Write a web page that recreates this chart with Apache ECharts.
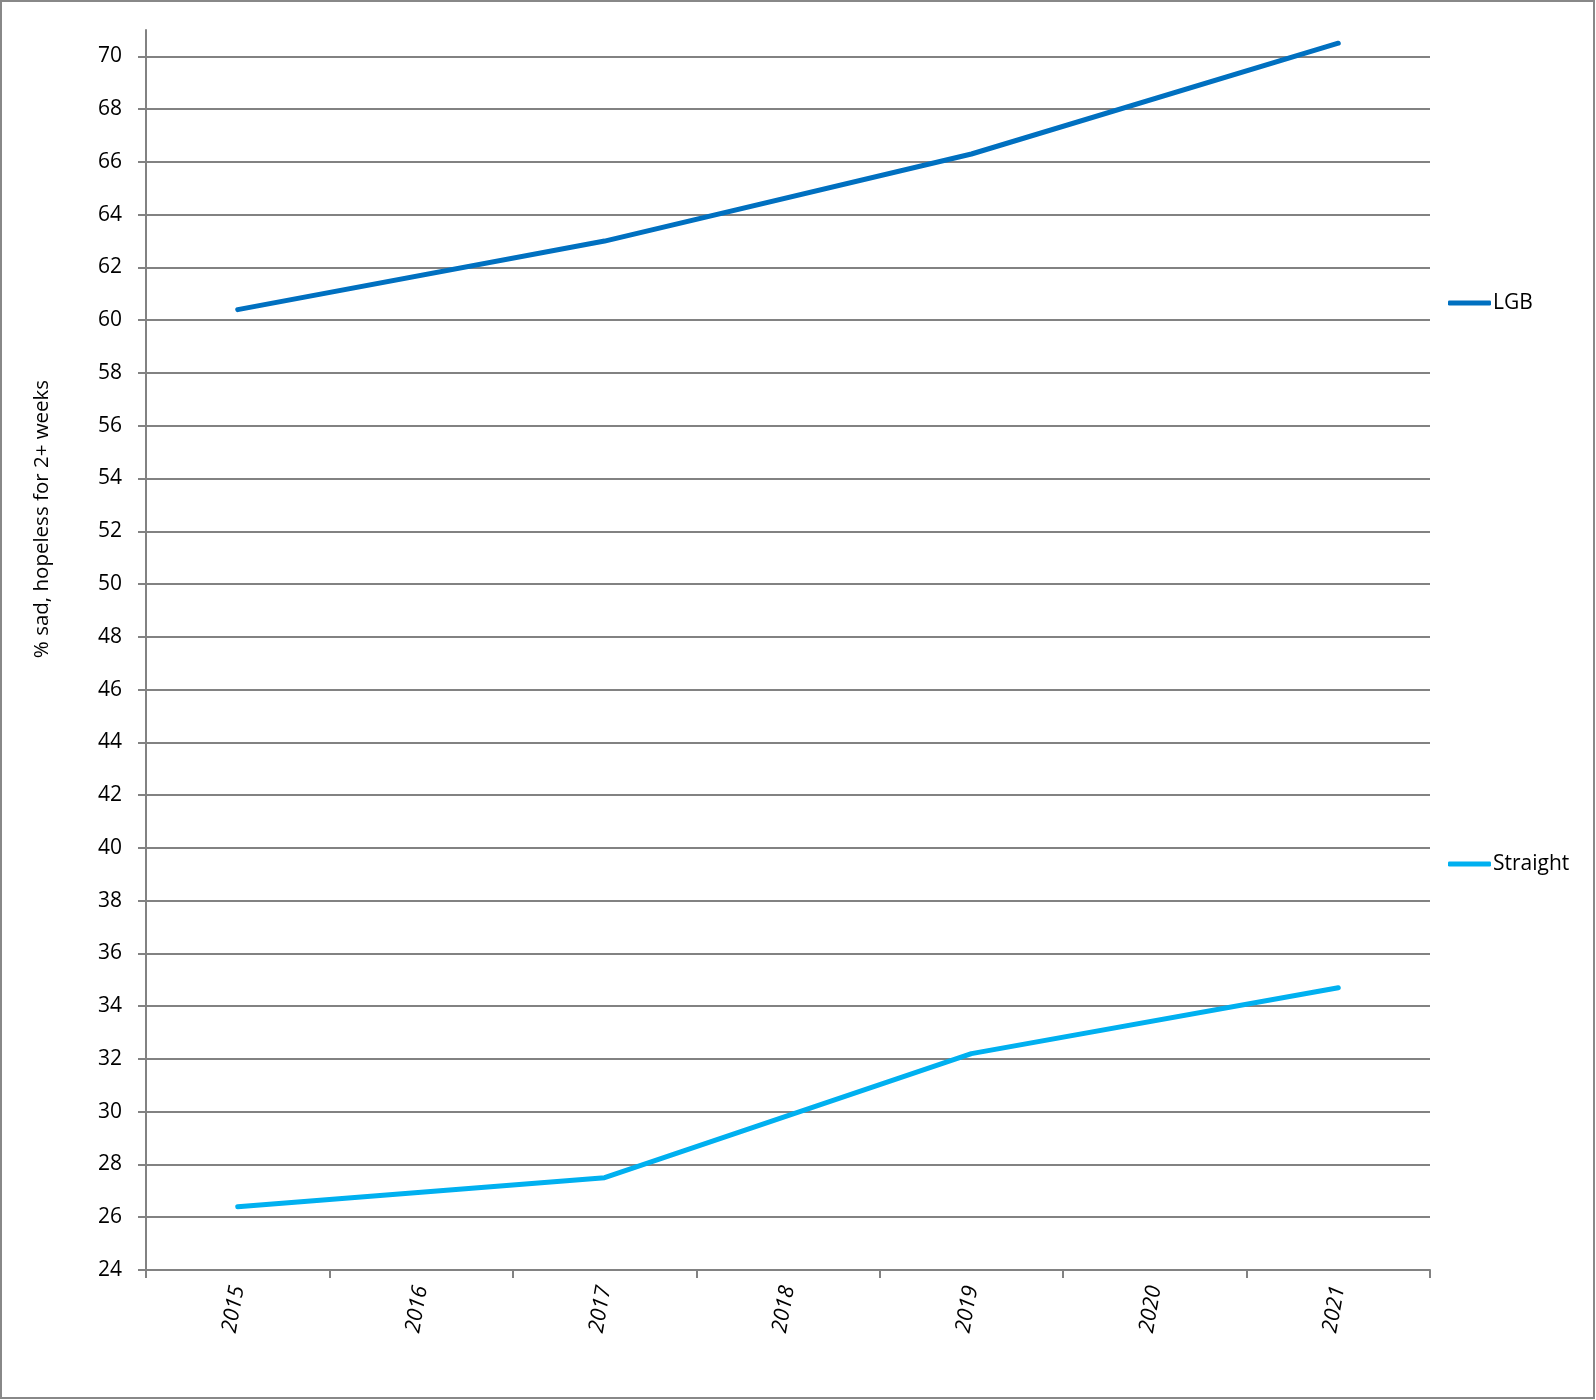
<!DOCTYPE html>
<html>
<head>
<meta charset="utf-8">
<script src="https://cdn.jsdelivr.net/npm/echarts@6/dist/echarts.min.js"></script>
<style>
  html, body { margin: 0; padding: 0; background: #fff; }
  #frame { position: absolute; left: 0; top: 0; width: 1595px; height: 1399px; box-sizing: border-box; border: 2px solid #888; }
  #chart { position: absolute; left: 0; top: 0; width: 1596px; height: 1400px; }
</style>
</head>
<body>
<div id="frame"></div>
<div id="chart"></div>
<script>
const years = ['2015', '2016', '2017', '2018', '2019', '2020', '2021'];
const lgbValues = [60.4, null, 63.0, null, 66.3, null, 70.5];
const straightValues = [26.4, null, 27.5, null, 32.2, null, 34.7];
const yTickValues = [24, 26, 28, 30, 32, 34, 36, 38, 40, 42, 44, 46, 48, 50, 52, 54, 56, 58, 60, 62, 64, 66, 68, 70];
const yTitle = '% sad, hopeless for 2+ weeks';

const chart = echarts.init(document.getElementById('chart'), null, { renderer: 'canvas' });
const axisGray = '#828282';
const font = '"Open Sans", "Liberation Sans", sans-serif';

chart.setOption({
  animation: false,
  backgroundColor: 'transparent',
  textStyle: { fontFamily: font, color: '#000' },
  grid: { left: 146, top: 30, width: 1284, height: 1240, containLabel: false },
  legend: [
    {
      data: ['LGB'], left: 1448, top: 291, orient: 'vertical', padding: 0,
      icon: 'roundRect', itemWidth: 43, itemHeight: 5, itemGap: 0,
      textStyle: { fontFamily: font, fontSize: 21, color: '#000', lineHeight: 24, padding: [0, 0, 0, -3] },
      selectedMode: false
    },
    {
      data: ['Straight'], left: 1448, top: 852, orient: 'vertical', padding: 0,
      icon: 'roundRect', itemWidth: 43, itemHeight: 5, itemGap: 0,
      textStyle: { fontFamily: font, fontSize: 21, color: '#000', lineHeight: 24, padding: [0, 0, 0, -3] },
      selectedMode: false
    }
  ],
  xAxis: {
    type: 'category',
    data: years,
    boundaryGap: true,
    axisLine: { show: true, lineStyle: { color: axisGray, width: 2 } },
    axisTick: { show: true, alignWithLabel: false, length: 8, lineStyle: { color: axisGray, width: 2 } },
    axisLabel: { rotate: 80, margin: 16, fontFamily: font, fontSize: 21.5, fontStyle: 'italic', color: '#000' },
    splitLine: { show: false }
  },
  yAxis: {
    type: 'value',
    min: 24, max: 71, interval: 2,
    axisLine: { show: true, lineStyle: { color: axisGray, width: 2 } },
    axisTick: { show: true, length: 8, customValues: yTickValues, lineStyle: { color: axisGray, width: 2 } },
    axisLabel: { customValues: yTickValues, margin: 24, fontFamily: font, fontSize: 21, color: '#000' },
    splitLine: { show: true, lineStyle: { color: axisGray, width: 2 } }
  },
  graphic: [{
    type: 'text',
    x: 42, y: 519,
    rotation: Math.PI / 2,
    style: { text: yTitle, fontFamily: font, fontSize: 20.5, fill: '#000', align: 'center', verticalAlign: 'middle' }
  }],
  series: [
    {
      name: 'LGB', type: 'line', data: lgbValues, connectNulls: true,
      showSymbol: false, symbol: 'none', silent: true,
      itemStyle: { color: '#0070C0' },
      lineStyle: { color: '#0070C0', width: 5, cap: 'round', join: 'round' }
    },
    {
      name: 'Straight', type: 'line', data: straightValues, connectNulls: true,
      showSymbol: false, symbol: 'none', silent: true,
      itemStyle: { color: '#00B0F0' },
      lineStyle: { color: '#00B0F0', width: 5, cap: 'round', join: 'round' }
    }
  ]
});
</script>
</body>
</html>
